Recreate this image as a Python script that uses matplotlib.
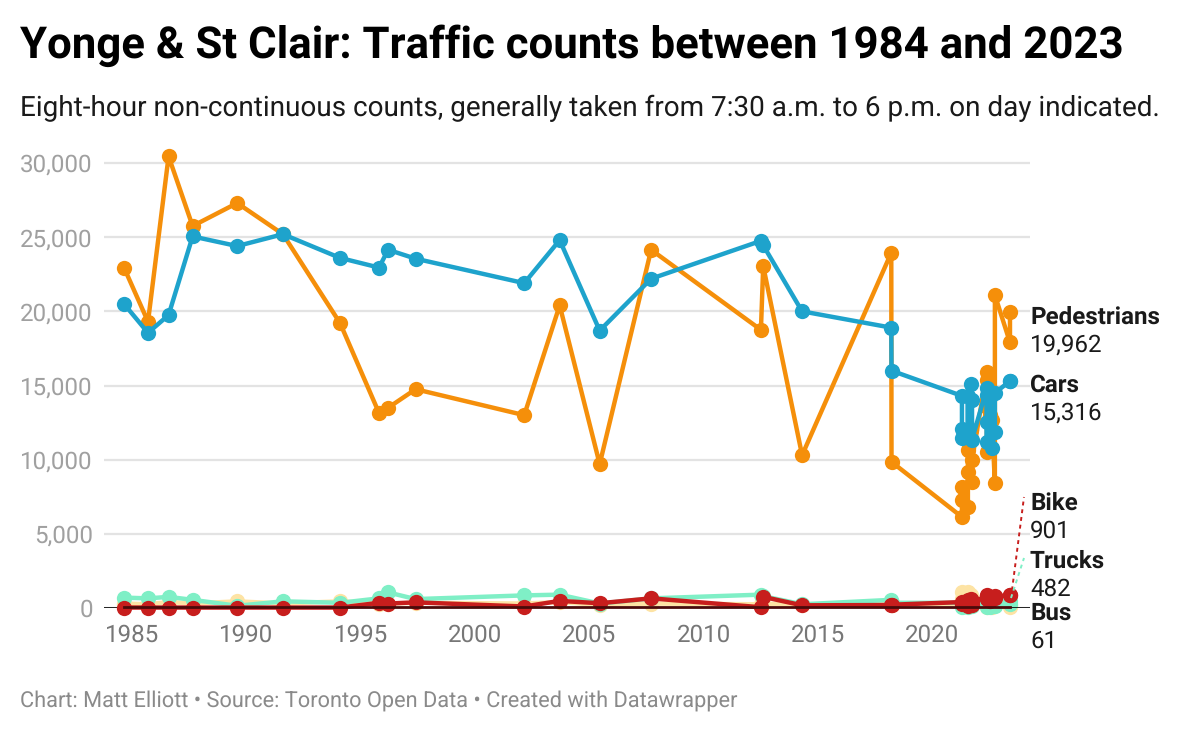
# -*- coding: utf-8 -*-
import matplotlib
matplotlib.use('Agg')
import matplotlib.pyplot as plt

plt.rcParams['font.family'] = ['Roboto', 'DejaVu Sans']
plt.rcParams['text.hinting'] = 'no_hinting'  # sizes jump around otherwise

# data ---------------------------------------------------------------------
years = [1984.65, 1985.7, 1986.6, 1987.65, 1989.6, 1991.6, 1994.1, 1995.8, 1996.2, 1997.4,
         2002.15, 2003.7, 2005.45, 2007.7, 2012.5, 2012.6, 2014.3, 2018.2, 2018.21,
         2021.29, 2021.29, 2021.29, 2021.55, 2021.55, 2021.55, 2021.68, 2021.73, 2021.73,
         2022.38, 2022.38, 2022.38, 2022.38, 2022.52, 2022.6, 2022.73, 2022.73, 2023.39, 2023.39]
pedestrians = [22950, 19300, 30450, 25750, 27300, 25200, 19200, 13150, 13500, 14750,
               13000, 20400, 9700, 24150, 18750, 23050, 10300, 23950, 9850,
               6136, 7280, 8160, 6810, 9170, 10650, 12000, 8500, 9980,
               15910, 15370, 13550, 10520, 13000, 12680, 8400, 21100, 17900, 19962]
cars = [20500, 18550, 19750, 25050, 24400, 25200, 23600, 22950, 24150, 23550,
        21900, 24800, 18700, 22200, 24750, 24450, 20000, 18900, 16000,
        14300, 12100, 11450, 11500, 14300, 11600, 15100, 14000, 11350,
        14830, 12540, 11200, 14350, 14200, 10800, 11870, 14500, 15300, 15316]
trucks = [700, 650, 750, 550, 150, 450, 350, 650, 1050, 600,
          850, 900, 300, 650, 900, 800, 250, 550, 350,
          350, 250, 100, 150, 300, 100, 350, 300, 150,
          200, 300, 100, 300, 100, 200, 150, 250, 300, 482]
bus = [60, 60, 60, 60, 60, 60, 60, 60, 60, 60,
       60, 60, 60, 60, 60, 60, 60, 60, 60,
       60, 60, 60, 60, 60, 60, 60, 60, 60,
       60, 60, 60, 60, 60, 60, 60, 60, 60, 61]
bike = [30, 30, 30, 30, 30, 30, 30, 350, 300, 380,
        100, 480, 320, 650, 50, 750, 180, 200, 220,
        400, 350, 300, 300, 550, 150, 600, 200, 500,
        700, 900, 600, 800, 500, 700, 650, 800, 850, 901]
other = [300, 250, 400, 300, 450, 300, 450, 300, 300, 350,
         300, 400, 200, 300, 250, 300, 200, 250, 200,
         300, 1100, 600, 600, 1100, 500, 900, 700, 400,
         500, 600, 50, 500, 300, 50, 400, 300, 50, 200]

y_ticks = [0, 5000, 10000, 15000, 20000, 25000, 30000]
x_ticks = [1985, 1990, 1995, 2000, 2005, 2010, 2015, 2020]

title = 'Yonge & St Clair: Traffic counts between 1984 and 2023'
subtitle = 'Eight-hour non-continuous counts, generally taken from 7:30 a.m. to 6 p.m. on day indicated.'
footer = 'Chart: Matt Elliott \u2022 Source: Toronto Open Data \u2022 Created with Datawrapper'

W, H = 1200, 734
x0, x1 = 104, 1030
y0, y1 = 608, 163   # pixel rows of 0 and 30,000

fig = plt.figure(figsize=(W / 100, H / 100), dpi=100)
ax = fig.add_axes([x0 / W, 1 - y0 / H, (x1 - x0) / W, (y0 - 130) / H])

# x: 132px = 1985, 22.87 px per year ; y: 14.83 px per 1000
ax.set_xlim(1985 + (x0 - 132) / 22.87, 1985 + (x1 - 132) / 22.87)
ax.set_ylim(0, (y0 - 130) / (y0 - y1) * 30000)
for s in ax.spines.values():
    s.set_visible(False)

ax.set_yticks(y_ticks)
ax.set_yticklabels(['{:,}'.format(v) for v in y_ticks], fontsize=17.4, color='#a0a0a0')
ax.set_xticks(x_ticks)
ax.set_xticklabels([str(v) for v in x_ticks], fontsize=17.4, color='#777777')
ax.tick_params(length=0)
ax.tick_params(axis='x', pad=11)
ax.tick_params(axis='y', pad=8)
ax.grid(axis='y', color='#e3e3e3', lw=1.6, zorder=0)
ax.set_axisbelow(True)

def draw(vals, color, z):
    ax.plot(years, vals, color=color, lw=3.2, marker='o', ms=11, mew=0,
            zorder=z, clip_on=False, solid_joinstyle='round')

draw(other, '#fde3a4', 3)
draw(trucks, '#7fefc6', 4)
draw(pedestrians, '#f58f0a', 5)
draw(cars, '#1ea3cc', 6)
ax.axhline(0, color='#111111', lw=2, zorder=7)
draw(bike, '#c71e1d', 8)
# bus sits on the baseline, no visible dots in the original
ax.plot(years, bus, color='#4a0a0a', lw=2, zorder=9, clip_on=False)

def px(x, y):
    return x / W, 1 - y / H

fig.text(*px(20, 46), title, fontsize=31.5, fontweight='bold', color='black', va='center')
fig.text(*px(20, 108), subtitle, fontsize=20.1, color='#1a1a1a', va='center')
fig.text(*px(20, 701), footer, fontsize=15.7, color='#8a8a8a', va='center')

labels = [('Pedestrians', '19,962', 316, 344), ('Cars', '15,316', 384, 412),
          ('Bike', '901', 502, 530), ('Trucks', '482', 560, 588), ('Bus', '61', 612, 640)]
for name, val, yb, yv in labels:
    fig.text(*px(1030, yb + 1), name, fontsize=17.4, fontweight='bold', color='#1a1a1a', va='center')
    fig.text(*px(1030, yv + 1), val, fontsize=17.4, color='#1a1a1a', va='center')

# dotted connectors to the direct labels
fig.add_artist(plt.Line2D([1011 / W, 1024 / W], [1 - 598 / H, 1 - 497 / H], color='#c71e1d', lw=1.4, ls=(0, (2, 2)), zorder=10))
fig.add_artist(plt.Line2D([1011 / W, 1024 / W], [1 - 598 / H, 1 - 558 / H], color='#7fefc6', lw=1.4, ls=(0, (2, 2)), zorder=10))

fig.savefig('out.png', dpi=100)
